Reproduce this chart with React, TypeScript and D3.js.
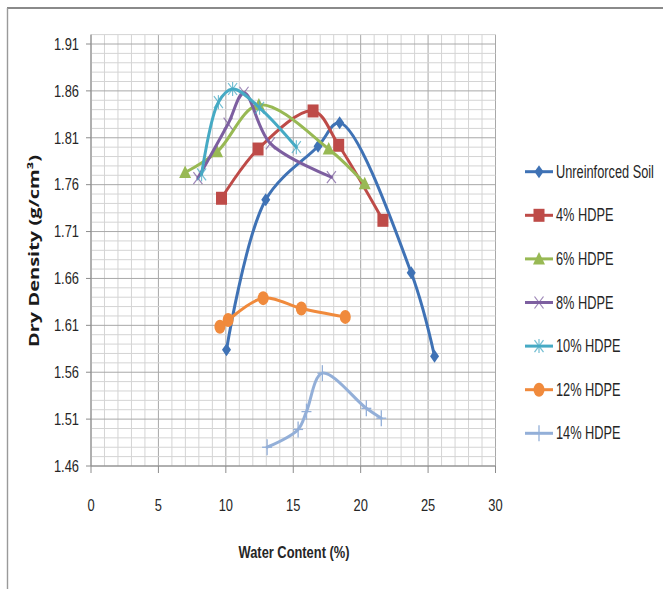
import React from 'react';
import * as d3 from 'd3';

// ── Data ──────────────────────────────────────────────────────────────────────
const X_TICKS = [0, 5, 10, 15, 20, 25, 30];
const Y_TICKS = [1.46, 1.51, 1.56, 1.61, 1.66, 1.71, 1.76, 1.81, 1.86, 1.91];

const unreinforced: [number, number][] = [
  [10.05, 1.584], [12.96, 1.744], [16.84, 1.801], [18.44, 1.826], [23.75, 1.666], [25.48, 1.577],
];
const hdpe4: [number, number][] = [
  [9.68, 1.7455], [12.39, 1.798], [16.47, 1.8386], [18.37, 1.802], [21.65, 1.722],
];
const hdpe6: [number, number][] = [
  [6.98, 1.773], [9.35, 1.795], [12.45, 1.845], [17.63, 1.798], [20.3, 1.761],
];
const hdpe8: [number, number][] = [
  [7.93, 1.767], [10.17, 1.825], [11.35, 1.858], [13.3, 1.804], [17.83, 1.768],
];
const hdpe10: [number, number][] = [
  [8.2, 1.771], [9.45, 1.848], [10.5, 1.862], [12.5, 1.842], [15.23, 1.8],
];
const hdpe12: [number, number][] = [
  [9.56, 1.6085], [10.17, 1.6157], [12.77, 1.639], [15.6, 1.628], [18.86, 1.619],
];
const hdpe14: [number, number][] = [
  [13.06, 1.48], [15.36, 1.499], [15.98, 1.518], [17.16, 1.559], [20.42, 1.5215], [21.53, 1.511],
];

const SERIES = [
  { label: 'Unreinforced Soil', data: unreinforced, color: '#3f72b5', marker: 'diamond' },
  { label: '4% HDPE', data: hdpe4, color: '#be4b48', marker: 'square' },
  { label: '6% HDPE', data: hdpe6, color: '#98b954', marker: 'triangle' },
  { label: '8% HDPE', data: hdpe8, color: '#7d5fa0', marker: 'x' },
  { label: '10% HDPE', data: hdpe10, color: '#46aac4', marker: 'star' },
  { label: '12% HDPE', data: hdpe12, color: '#f08a3c', marker: 'circle' },
  { label: '14% HDPE', data: hdpe14, color: '#93afd8', marker: 'plus' },
];

const FONT = "'Liberation Sans', Arial, sans-serif";

// condensed text: drawn at (x, y) and squeezed horizontally like the reference
function NText({ x, y, anchor = 'start', size = 16.5, squeeze = 0.78, weight = 'normal', children }:
  { x: number; y: number; anchor?: string; size?: number; squeeze?: number; weight?: string; children: React.ReactNode }) {
  return (
    <g transform={`translate(${x},${y}) scale(${squeeze},1)`}>
      <text dy="0.35em" textAnchor={anchor} fontFamily={FONT} fontSize={size} fontWeight={weight} fill="#262626">
        {children}
      </text>
    </g>
  );
}

function Marker({ kind, x, y, color }: { kind: string; x: number; y: number; color: string }) {
  switch (kind) {
    case 'diamond':
      return <path d={`M${x},${y - 6.5}L${x + 4.5},${y}L${x},${y + 6.5}L${x - 4.5},${y}Z`} fill={color} />;
    case 'square':
      return <rect x={x - 5.5} y={y - 6.5} width={11} height={13} fill={color} />;
    case 'triangle':
      return <path d={`M${x},${y - 7}L${x + 6},${y + 5.5}L${x - 6},${y + 5.5}Z`} fill={color} />;
    case 'x':
      return (
        <g stroke={color} strokeWidth={1.2} opacity={0.75}>
          <line x1={x - 4.5} y1={y - 6} x2={x + 4.5} y2={y + 6} />
          <line x1={x - 4.5} y1={y + 6} x2={x + 4.5} y2={y - 6} />
        </g>
      );
    case 'star':
      return (
        <g stroke={color} strokeWidth={1.2} opacity={0.75}>
          <line x1={x - 4.5} y1={y - 6} x2={x + 4.5} y2={y + 6} />
          <line x1={x - 4.5} y1={y + 6} x2={x + 4.5} y2={y - 6} />
          <line x1={x} y1={y - 7} x2={x} y2={y + 7} />
        </g>
      );
    case 'circle':
      return <ellipse cx={x} cy={y} rx={5.5} ry={7} fill={color} />;
    case 'plus':
      return (
        <g stroke={color} strokeWidth={1.3}>
          <line x1={x} y1={y - 8} x2={x} y2={y + 8} />
          <line x1={x - 5} y1={y} x2={x + 5} y2={y} />
        </g>
      );
    default:
      return null;
  }
}

export default function App() {
  const W = 663;
  const H = 589;

  const xScale = d3.scaleLinear().domain([0, 30]).range([91, 495.5]);
  const yScale = d3.scaleLinear().domain([1.46, 1.91]).range([466, 44]);
  const yTop = 1.92;

  const lineGen = d3.line<[number, number]>()
    .x(d => xScale(d[0]))
    .y(d => yScale(d[1]))
    .curve(d3.curveCatmullRom.alpha(0.5));

  const xMinor = d3.range(0, 31, 1);
  const yMinor = d3.range(0, 47).map(i => +(1.46 + i * 0.01).toFixed(2));

  const legendX = 525;
  const legendY = 171.7;
  const legendStep = 43.6;

  return (
    <div style={{ position: 'absolute', left: 0, top: 0 }}>
      <svg width={W} height={H} style={{ display: 'block', background: '#fff' }}>
        {/* outer frame */}
        <line x1={7} y1={8} x2={W} y2={8} stroke="#8a8a8a" strokeWidth={2.2} />
        <line x1={7.5} y1={8} x2={7.5} y2={H} stroke="#9a9a9a" strokeWidth={1.4} />

        {/* grid */}
        {xMinor.map(v => (
          <line key={`gx${v}`} x1={xScale(v)} x2={xScale(v)} y1={yScale(yTop)} y2={yScale(1.46)}
            stroke={v % 5 === 0 ? '#a8a8a8' : '#d4d4d4'} strokeWidth={1} />
        ))}
        {yMinor.map((v, i) => (
          <line key={`gy${v}`} x1={xScale(0)} x2={xScale(30)} y1={yScale(v)} y2={yScale(v)}
            stroke={i % 5 === 0 ? '#a8a8a8' : '#d4d4d4'} strokeWidth={1} />
        ))}

        {/* axes */}
        <line x1={xScale(0)} x2={xScale(0)} y1={yScale(yTop)} y2={yScale(1.46)} stroke="#8c8c8c" />
        <line x1={xScale(0)} x2={xScale(30)} y1={yScale(1.46)} y2={yScale(1.46)} stroke="#8c8c8c" />
        {Y_TICKS.map(v => (
          <g key={`yt${v}`}>
            <line x1={xScale(0) - 5} x2={xScale(0)} y1={yScale(v)} y2={yScale(v)} stroke="#8c8c8c" />
            <NText x={79} y={yScale(v)} anchor="end">{v.toFixed(2)}</NText>
          </g>
        ))}
        {X_TICKS.map(v => (
          <g key={`xt${v}`}>
            <line x1={xScale(v)} x2={xScale(v)} y1={yScale(1.46)} y2={yScale(1.46) + 7} stroke="#8c8c8c" />
            <NText x={xScale(v)} y={505} anchor="middle">{v}</NText>
          </g>
        ))}

        {/* axis titles */}
        <NText x={294} y={552} anchor="middle" weight="bold" size={16.5} squeeze={0.78}>Water Content (%)</NText>
        <text transform="translate(34,251) rotate(-90)" textAnchor="middle" dy="0.35em"
          fontFamily="'Open Sans', 'DejaVu Sans', sans-serif" fontSize={13.5} fontWeight="bold" fill="#1a1a1a"
          textLength={192} lengthAdjust="spacingAndGlyphs">
          Dry Density (g/cm³)
        </text>

        {/* series */}
        {SERIES.map(s => (
          <g key={s.label}>
            <path d={lineGen(s.data) || ''} fill="none" stroke={s.color} strokeWidth={3}
              strokeLinejoin="round" strokeLinecap="round" />
            {s.data.map((d, i) => (
              <Marker key={i} kind={s.marker} x={xScale(d[0])} y={yScale(d[1])} color={s.color} />
            ))}
          </g>
        ))}

        {/* legend */}
        {SERIES.map((s, i) => {
          const y = legendY + i * legendStep;
          return (
            <g key={`lg${s.label}`}>
              <line x1={legendX} x2={legendX + 28} y1={y} y2={y} stroke={s.color} strokeWidth={3} />
              <Marker kind={s.marker} x={legendX + 14} y={y} color={s.color} />
              <NText x={legendX + 31} y={y} size={17.5} squeeze={0.73}>{s.label}</NText>
            </g>
          );
        })}
      </svg>
    </div>
  );
}
